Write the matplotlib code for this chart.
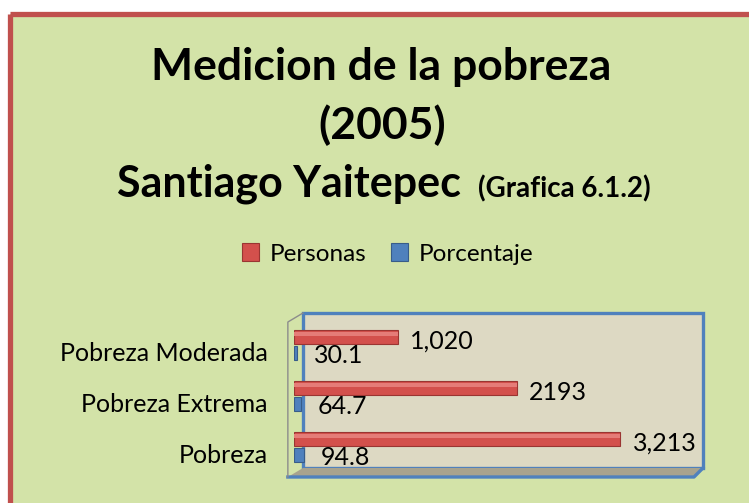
import numpy as np
import matplotlib
matplotlib.use('Agg')
import matplotlib.pyplot as plt
from matplotlib.patches import Polygon, Rectangle
from matplotlib.colors import LinearSegmentedColormap

#%% Datos

categorias = ['Pobreza', 'Pobreza Extrema', 'Pobreza Moderada']
personas = [3213, 2193, 1020]
porcentaje = [94.8, 64.7, 30.1]
txt_personas = ['3,213', '2193', '1,020']
txt_porcentaje = ['94.8', '64.7', '30.1']
series = ['Personas', 'Porcentaje']

plt.rcParams['font.family'] = ['Lato', 'DejaVu Sans']

W, H = 749, 503
fig = plt.figure(figsize=(W/100, H/100), dpi=100)
fig.patch.set_facecolor('white')

#%% Marco de fondo (en pixeles)

bg = fig.add_axes([0, 0, 1, 1])
bg.set_xlim(0, W)
bg.set_ylim(H, 0)
bg.axis('off')

cara = '#D3E3A8'
bg.add_patch(Rectangle((9.5, 14), W, H, facecolor=cara, edgecolor='none'))


def degradado(puntos, c0, c1, vertical):
    # relleno con degradado recortado a un poligono
    poly = Polygon(puntos, closed=True, facecolor='none', edgecolor='none')
    bg.add_patch(poly)
    xs = [p[0] for p in puntos]
    ys = [p[1] for p in puntos]
    g = np.linspace(0, 1, 128)
    arr = g[:, None] if vertical else g[None, :]
    cmap = LinearSegmentedColormap.from_list('g', [c0, c1])
    im = bg.imshow(arr, cmap=cmap, extent=(min(xs), max(xs), max(ys), min(ys)),
                   aspect='auto', interpolation='bilinear')
    im.set_clip_path(poly)


# biseles
degradado([(12, 16), (W, 16), (W, 42), (40, 42)], '#AFBF8A', '#C9D9A0', True)
degradado([(12, 16), (40, 42), (40, 478), (12, 503)], '#9EAD7A', cara, False)
degradado([(12, 503), (40, 478), (W, 478), (W, 503)], '#F1F6D0', '#FAFCE6', True)
degradado([(728, 42), (W, 42), (W, 478), (728, 478)], '#D8E7B0', '#DDEBB8', False)

bg.plot([9.5, 9.5], [14, H], color='#C0504D', lw=3.8, solid_capstyle='butt')
bg.plot([9.5, W], [14, 14], color='#C0504D', lw=3.8, solid_capstyle='butt')

#%% Titulo

fig.text(381/W, 1-80/H, 'Medicion de la pobreza', ha='center', va='baseline',
         fontsize=32, fontweight='bold')
fig.text(382/W, 1-139/H, '(2005)', ha='center', va='baseline',
         fontsize=32, fontweight='bold')
fig.text(117/W, 1-197/H, 'Santiago Yaitepec', ha='left', va='baseline',
         fontsize=31, fontweight='bold')
fig.text(478/W, 1-197/H, '(Grafica 6.1.2)', ha='left', va='baseline',
         fontsize=20, fontweight='bold')

#%% Grafica

ax = fig.add_axes([294/W, 1-477/H, 409/W, 164/H])
ax.patch.set_visible(False)
for s in ax.spines.values():
    s.set_visible(False)

# paredes 3D
ax.add_patch(Rectangle((0.022, 0.055), 0.978, 0.945, transform=ax.transAxes,
                       facecolor='#DDD9C3', edgecolor='#4F81BD', lw=2.4,
                       zorder=0, clip_on=False))
ax.add_patch(Polygon([(-0.015, 0), (0.978, 0), (1.0, 0.055), (0.022, 0.055)],
                     transform=ax.transAxes, facecolor='#A8A38E', edgecolor='none',
                     zorder=0, clip_on=False))
ax.plot([-0.015, 0.978, 1.0], [0, 0, 0.055], transform=ax.transAxes,
        color='#4F81BD', lw=2.4, clip_on=False, zorder=1)
ax.plot([0.022, -0.015, -0.015], [1.0, 0.945, 0], transform=ax.transAxes,
        color='#8C8C8C', lw=1.0, clip_on=False, zorder=1)

y = np.arange(len(categorias))
h = 0.28
d = 0.157

ax.barh(y + d, personas, height=h, color='#D3504C', edgecolor='#9A3532',
        lw=0.8, zorder=3, label=series[0])
ax.barh(y + d + 0.05, personas, height=0.08, color='#E57C78', lw=0, zorder=4)
ax.barh(y - d, porcentaje, height=h, color='#4F81BD', edgecolor='#385D8A',
        lw=0.8, zorder=3, label=series[1])

for i in range(len(categorias)):
    ax.annotate(txt_personas[i], (personas[i], y[i] + d), xytext=(9, -3),
                textcoords='offset points', ha='left', va='center', fontsize=18)
    ax.annotate(txt_porcentaje[i], (porcentaje[i], y[i] - d), xytext=(12, -1.5),
                textcoords='offset points', ha='left', va='center', fontsize=18)

ax.set_xlim(0, 4025)
ax.set_ylim(-0.588, 2.627)
ax.set_xticks([])
ax.set_yticks(y - 0.12)
ax.set_yticklabels(categorias, fontsize=18)
ax.tick_params(axis='y', length=0, pad=19)

fig.legend(loc='center', bbox_to_anchor=(388/W, 1-254/H), ncol=2, frameon=False,
           fontsize=17.5, handlelength=0.7, handleheight=0.7, handletextpad=0.45,
           columnspacing=1.0)

fig.savefig('out.png', dpi=100, facecolor=fig.get_facecolor())
